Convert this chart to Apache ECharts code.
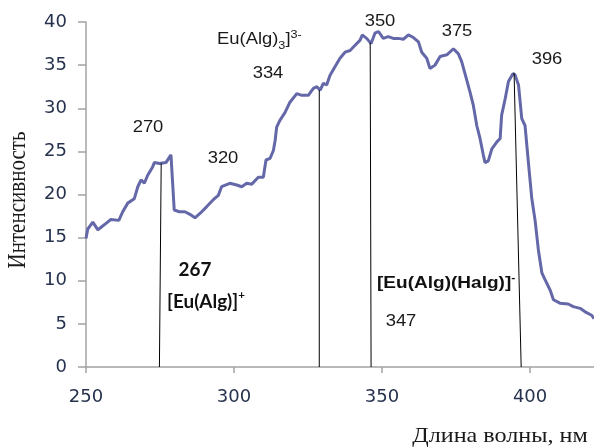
<!DOCTYPE html>
<html><head><meta charset="utf-8">
<script src="https://cdn.jsdelivr.net/npm/echarts@6/dist/echarts.min.js"></script>
<style>html,body{margin:0;padding:0;background:#fff}#c{width:594px;height:448px}</style>
</head><body><div id="c"></div>
<script>
// Spectrum (wavelength, nm) and intensity
const wavelength = [250.0,250.6,252.3,254.0,255.1,257.3,258.4,261.1,262.4,264.1,
266.3,267.5,268.6,269.7,270.8,272.5,273.1,274.8,277.0,278.7,
279.3,279.8,281.5,283.4,285.1,286.8,288.5,290.8,293.0,294.7,
295.8,298.6,300.9,302.6,304.3,306.0,308.2,309.9,310.8,312.2,
313.3,313.9,314.4,315.5,317.2,318.9,321.2,322.9,325.1,326.8,
328.0,329.1,330.2,331.3,332.4,334.1,335.8,337.5,339.2,340.9,
342.6,343.3,344.8,346.3,347.6,348.8,350.4,352.1,353.8,355.5,
357.2,358.9,360.6,362.3,363.4,365.1,366.2,367.9,369.6,371.9,
374.1,375.8,376.9,378.6,379.7,380.8,382.0,383.1,384.2,384.8,
385.9,387.1,388.8,389.9,390.4,391.6,392.7,394.2,394.9,396.1,
397.2,398.3,399.5,400.6,401.7,402.8,404.0,405.1,406.8,407.9,
410.1,412.9,414.6,416.9,418.6,420.8,421.6];
const intensity = [14.9,16.0,16.8,15.9,16.2,16.8,17.1,17.0,18.0,19.0,
19.5,20.9,21.7,21.3,22.2,23.2,23.7,23.6,23.7,24.6,
24.4,18.2,18.0,18.0,17.7,17.3,17.8,18.6,19.4,19.9,
20.9,21.3,21.1,20.9,21.3,21.2,22.0,22.0,24.0,24.2,
25.1,26.3,27.8,28.6,29.5,30.7,31.7,31.5,31.5,32.3,
32.5,32.1,32.9,32.7,33.8,34.8,35.8,36.5,36.7,37.3,
37.9,38.5,38.1,37.5,38.7,38.9,38.1,38.3,38.1,38.1,
38.0,38.5,38.2,37.7,36.5,35.8,34.6,35.0,36.0,36.2,
36.9,36.3,35.4,33.3,31.9,30.4,28.0,26.5,24.6,23.7,
23.9,25.3,26.1,26.5,29.2,31.1,33.1,34.0,33.9,32.7,
28.8,28.0,23.5,19.5,17.0,13.6,10.9,10.1,8.9,7.8,
7.4,7.3,7.0,6.8,6.4,6.0,5.6];

// Marker (drop) lines: bottom x, top x, top intensity
const markerBottomX = [274.8, 328.8, 346.3, 397.0];
const markerTopX    = [275.4, 328.8, 346.0, 394.6];
const markerTopY    = [23.6, 32.1, 37.6, 34.1];

const xTicks = [250, 300, 350, 400];
const yMin = 0, yMax = 40, yStep = 5;
const xMin = 250, xMax = 421.6;

const peakLabels = ['270', '320', '334', '350', '375', '396', '347'];
const xTitle = 'Длина волны, нм';
const yTitle = 'Интенсивность';

const axisColor = '#a3a3a3';
const labelColor = '#26324e';
const curveColor = '#6468a8';
const SX = 1.15;

function txt(text, x, y, opts) {
  opts = opts || {};
  return {
    type: 'text', x: x, y: y, scaleX: opts.scaleX || SX, scaleY: opts.scaleY || 1,
    rotation: opts.rotation || 0, z: 10, silent: true,
    style: Object.assign({
      text: text, x: 0, y: 0,
      align: opts.align || 'center', verticalAlign: 'middle',
      fill: '#1a1a1a', fontFamily: 'Liberation Sans, Arial', fontSize: 16
    }, opts.style || {})
  };
}

const chart = echarts.init(document.getElementById('c'), null, {renderer: 'canvas'});

const series = [{
  type: 'line',
  data: wavelength.map((w, i) => [w, intensity[i]]),
  symbol: 'none', showSymbol: false,
  lineStyle: {color: curveColor, width: 3},
  z: 3, silent: true
}];
markerBottomX.forEach((bx, i) => {
  series.push({
    type: 'line',
    data: [[bx, 0], [markerTopX[i], markerTopY[i]]],
    symbol: 'none', showSymbol: false,
    lineStyle: {color: '#000', width: 1},
    z: 4, silent: true
  });
});

const boldCal = {fontFamily: 'Lato', fontWeight: 'bold', fontSize: 18, fill: '#111'};
const boldArial = {fontFamily: 'Liberation Sans', fontWeight: 'bold', fontSize: 17, fill: '#111'};

const graphic = [
  txt(peakLabels[0], 148, 128),
  txt(peakLabels[1], 223, 159),
  txt(peakLabels[2], 268, 74),
  txt(peakLabels[3], 380, 22),
  txt(peakLabels[4], 457, 32),
  txt(peakLabels[5], 547, 60),
  txt(peakLabels[6], 401, 322),
  txt('Eu(Alg){s|3}]{p|3-}', 217, 40, {align: 'left', style: {lineHeight: 22,
     rich: {s: {fontSize: 11, verticalAlign: 'bottom', fontFamily: 'Liberation Sans', fill: '#1a1a1a'},
            p: {fontSize: 11, verticalAlign: 'top', fontFamily: 'Liberation Sans', fill: '#1a1a1a'}}}}),
  txt('267', 195, 270, {style: boldCal, scaleX: 1.05}),
  txt('[Eu(Alg)]{p|+}', 167, 302, {align: 'left', scaleX: 1.05, style: Object.assign({}, boldCal, {lineHeight: 24,
     rich: {p: {fontSize: 11, verticalAlign: 'top', fontFamily: 'Lato', fontWeight: 'bold', fill: '#111'}}})}),
  txt('[Eu(Alg)(Halg)]{p|-}', 377, 283, {align: 'left', scaleX: 1.12, style: Object.assign({}, boldArial, {lineHeight: 22,
     rich: {p: {fontSize: 11, verticalAlign: 'top', fontFamily: 'Liberation Sans', fontWeight: 'bold', fill: '#111'}}})}),
  txt(xTitle, 500, 436, {style: {fontFamily: 'Liberation Serif', fontSize: 21, fill: '#1a1a1a'}}),
  txt(yTitle, 19, 200, {rotation: Math.PI / 2, scaleX: 1, scaleY: 1.17,
     style: {fontFamily: 'Liberation Serif', fontSize: 21, fill: '#1a1a1a'}})
];

chart.setOption({
  animation: false,
  backgroundColor: '#fff',
  grid: {left: 86, right: 0, top: 22, bottom: 81},
  xAxis: {
    type: 'value', min: xMin, max: xMax, interval: 50,
    axisLine: {show: true, onZero: false, lineStyle: {color: axisColor, width: 1.5}},
    axisTick: {show: true, length: 6, customValues: xTicks, lineStyle: {color: axisColor, width: 1.5}},
    axisLabel: {customValues: xTicks, margin: 21, color: labelColor, fontFamily: 'DejaVu Sans', fontSize: 18},
    splitLine: {show: false}
  },
  yAxis: {
    type: 'value', min: yMin, max: yMax, interval: yStep,
    axisLine: {show: true, lineStyle: {color: axisColor, width: 1.5}},
    axisTick: {show: true, length: 8, lineStyle: {color: axisColor, width: 1.5}},
    axisLabel: {margin: 19, color: labelColor, fontFamily: 'DejaVu Sans', fontSize: 18},
    splitLine: {show: false}
  },
  series: series,
  graphic: graphic
});
</script>
</body></html>
